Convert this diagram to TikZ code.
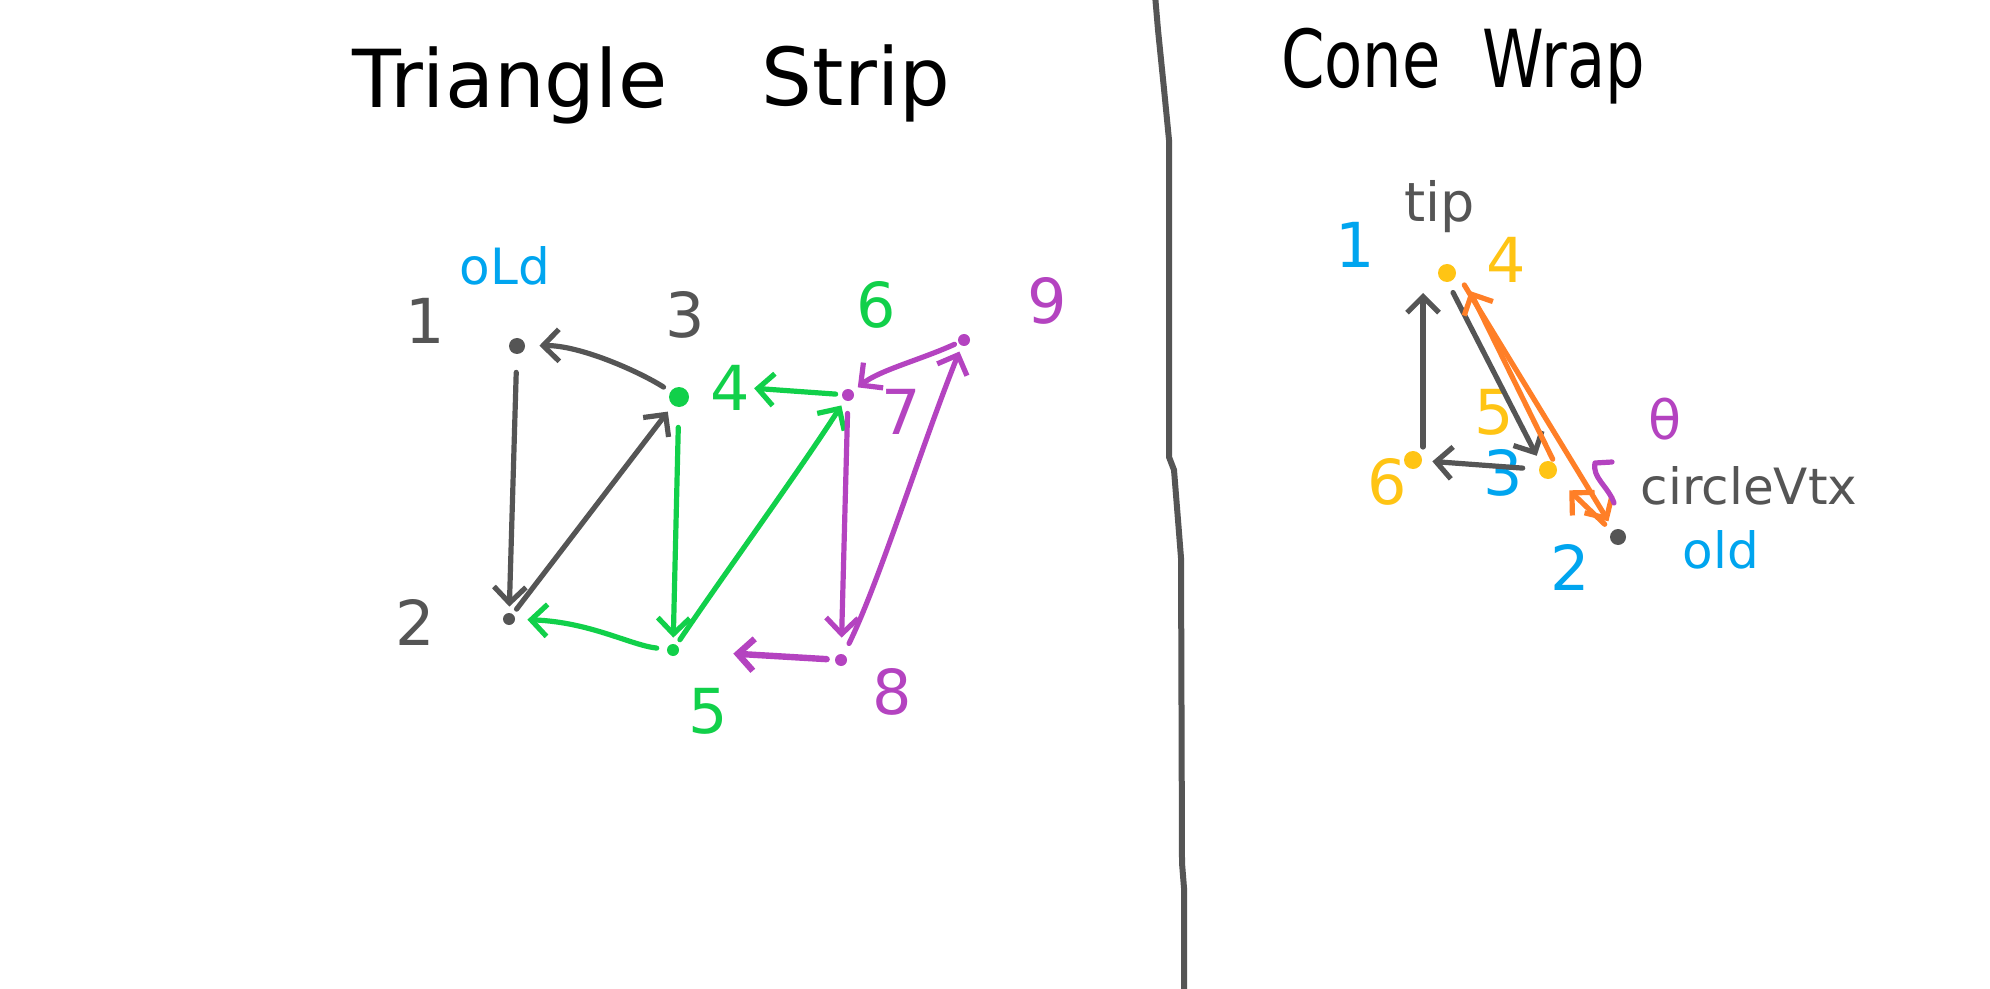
\documentclass[tikz,border=0pt]{standalone}
\usepackage{fontspec}
\setmainfont{DejaVu Sans}
\usetikzlibrary{arrows.meta}
\definecolor{pgray}{HTML}{555555}
\definecolor{pgreen}{HTML}{11D04A}
\definecolor{ppurple}{HTML}{B443C0}
\definecolor{pblue}{HTML}{00A5EF}
\definecolor{pyellow}{HTML}{FFC414}
\definecolor{porange}{HTML}{FF7F27}
\begin{document}
\begin{tikzpicture}[x=0.5pt,y=-0.5pt,
  pen/.style={line width=2.6pt,line cap=round,line join=round},
  arr/.style={pen,-{Straight Barb[length=8pt,width=16pt]}},
  dot/.style={circle,fill=pgray,inner sep=0pt,minimum size=6pt},
  lbl/.style={font=\fontsize{31}{31}\selectfont,inner sep=0pt},
  small/.style={font=\fontsize{25}{25}\selectfont,inner sep=0pt},
  title/.style={font=\fontsize{40}{40}\selectfont,inner sep=0pt,anchor=base}]
\fill[white] (0,0) rectangle (1990,989);
\useasboundingbox (0,0) rectangle (1990,989);
% titles
\node[title] (t1) at (510,108) {Triangle};
\node[title] (t2) at (856,106) {Strip};
\node[title] (t3) at (1361,88) {\scalebox{0.78}[1]{Cone}};
\node[title] (t4) at (1564,88) {\scalebox{0.78}[1]{Wrap}};
% divider
\draw[pgray,line width=3pt] (1155,-5) -- (1158,30) -- (1164,89) -- (1169,140) -- (1169,457) -- (1174,470) -- (1178,520) -- (1181,558) -- (1182,863) -- (1184,888) -- (1184,995);
% ---------- Triangle strip ----------
\node[dot,minimum size=8pt] (a1) at (517,346) {};
\node[dot,fill=pgreen,minimum size=10pt] (a3) at (679,397) {};
\node[dot] (a2) at (509,619) {};
\node[dot,fill=pgreen] (a5) at (673,650) {};
\node[dot,fill=ppurple] (a6) at (848,395) {};
\node[dot,fill=ppurple] (a8) at (841,660) {};
\node[dot,fill=ppurple] (a9) at (964,340) {};
\node[lbl,pgray] (n1) at (425,321) {1};
\node[small,pblue] (nold) at (505,266) {oLd};
\node[lbl,pgray] (n3) at (685,315) {3};
\node[lbl,pgray] (n2) at (415,622) {2};
\node[lbl,pgreen] (n5) at (708,711) {5};
\node[lbl,pgreen] (n4) at (730,388) {4};
\node[lbl,pgreen] (n6) at (876,305) {6};
\node[lbl,ppurple] (n7) at (901,412) {7};
\node[lbl,ppurple] (n8) at (892,692) {8};
\node[lbl,ppurple] (n9) at (1047,301) {9};
% gray triangle
\draw[arr,pgray,shorten <=9pt,shorten >=3pt] (a1) -- (a2);
\draw[arr,pgray,shorten <=3pt,shorten >=4pt] (a2) -- (a3);
\draw[arr,pgray,shorten <=4pt,shorten >=7pt] (a3) .. controls (640,372) and (580,345) .. (a1);
% green triangle
\draw[arr,pgreen,shorten <=10pt,shorten >=3pt] (a3) -- (a5);
\draw[arr,pgreen,shorten <=5pt,shorten >=6pt] (a5) .. controls (630,645) and (590,622) .. (a2);
\draw[arr,pgreen,shorten <=3pt,shorten >=3pt] (a5) .. controls (720,580) and (800,470) .. (a6);
\draw[arr,pgreen,shorten <=3pt,shorten >=2pt] (a6) -- (n4.east);
% purple triangle
\draw[arr,ppurple,shorten <=6pt,shorten >=8pt] (a6) -- (a8);
\draw[arr,ppurple,shorten <=6pt,shorten >=3pt] (a8) .. controls (880,580) and (920,450) .. (a9);
\draw[arr,ppurple,shorten <=2pt,shorten >=3pt] (a9) .. controls (920,360) and (880,370) .. (a6);
\draw[arr,ppurple,line width=3.2pt,shorten <=4pt,shorten >=27pt] (a8) -- (a5);
% ---------- Cone wrap ----------
\node[dot,fill=pyellow,minimum size=9pt] (b4) at (1447,273) {};
\node[dot,fill=pyellow,minimum size=9pt] (b6) at (1413,460) {};
\node[dot,fill=pyellow,minimum size=9pt] (b3) at (1548,470) {};
\node[dot,minimum size=8pt] (bo) at (1618,537) {};
\node[small,pgray,font=\fontsize{27}{27}\selectfont] (tip) at (1440,207) {tip};
\node[lbl,pblue] (m1) at (1355,245) {1};
\node[lbl,pyellow] (m4) at (1506,260) {4};
\node[lbl,pyellow] (m6) at (1387,482) {6};
\node[lbl,pblue] (m3) at (1503,473) {3};
\node[lbl,pyellow] (m5) at (1494,412) {5};
\node[lbl,pblue] (m2) at (1570,567) {2};
\node[small,pblue] (mold) at (1721,550) {old};
\node[small,pgray] (cv) at (1749,486) {circleVtx};
\node[lbl,ppurple,font=\fontsize{27}{27}\selectfont] (th) at (1665,419) {θ};
\draw[arr,pgray] ([shift={(5pt,6.5pt)}]b6.center) -- ([shift={(-12pt,-10pt)}]b4.center);
\draw[arr,pgray,shorten <=11pt,shorten >=8pt] ([xshift=-2pt]b4.center) -- ([xshift=-2pt]b3.center);
\draw[arr,pgray,shorten <=8pt,shorten >=5pt] (b3) -- (b6);
\draw[arr,porange,shorten <=6pt,shorten >=10pt] ([xshift=5pt]b3.center) -- ([xshift=7pt]b4.center);
\draw[arr,porange,shorten <=7pt,shorten >=5pt] ([xshift=5pt]b4.center) -- (bo);
\draw[arr,porange,shorten <=5pt,shorten >=10pt] (bo) -- (b3);
\draw[pen,ppurple] (1612,462) -- (1595,463) .. controls (1592,478) and (1608,486) .. (1614,503);
\end{tikzpicture}
\end{document}
